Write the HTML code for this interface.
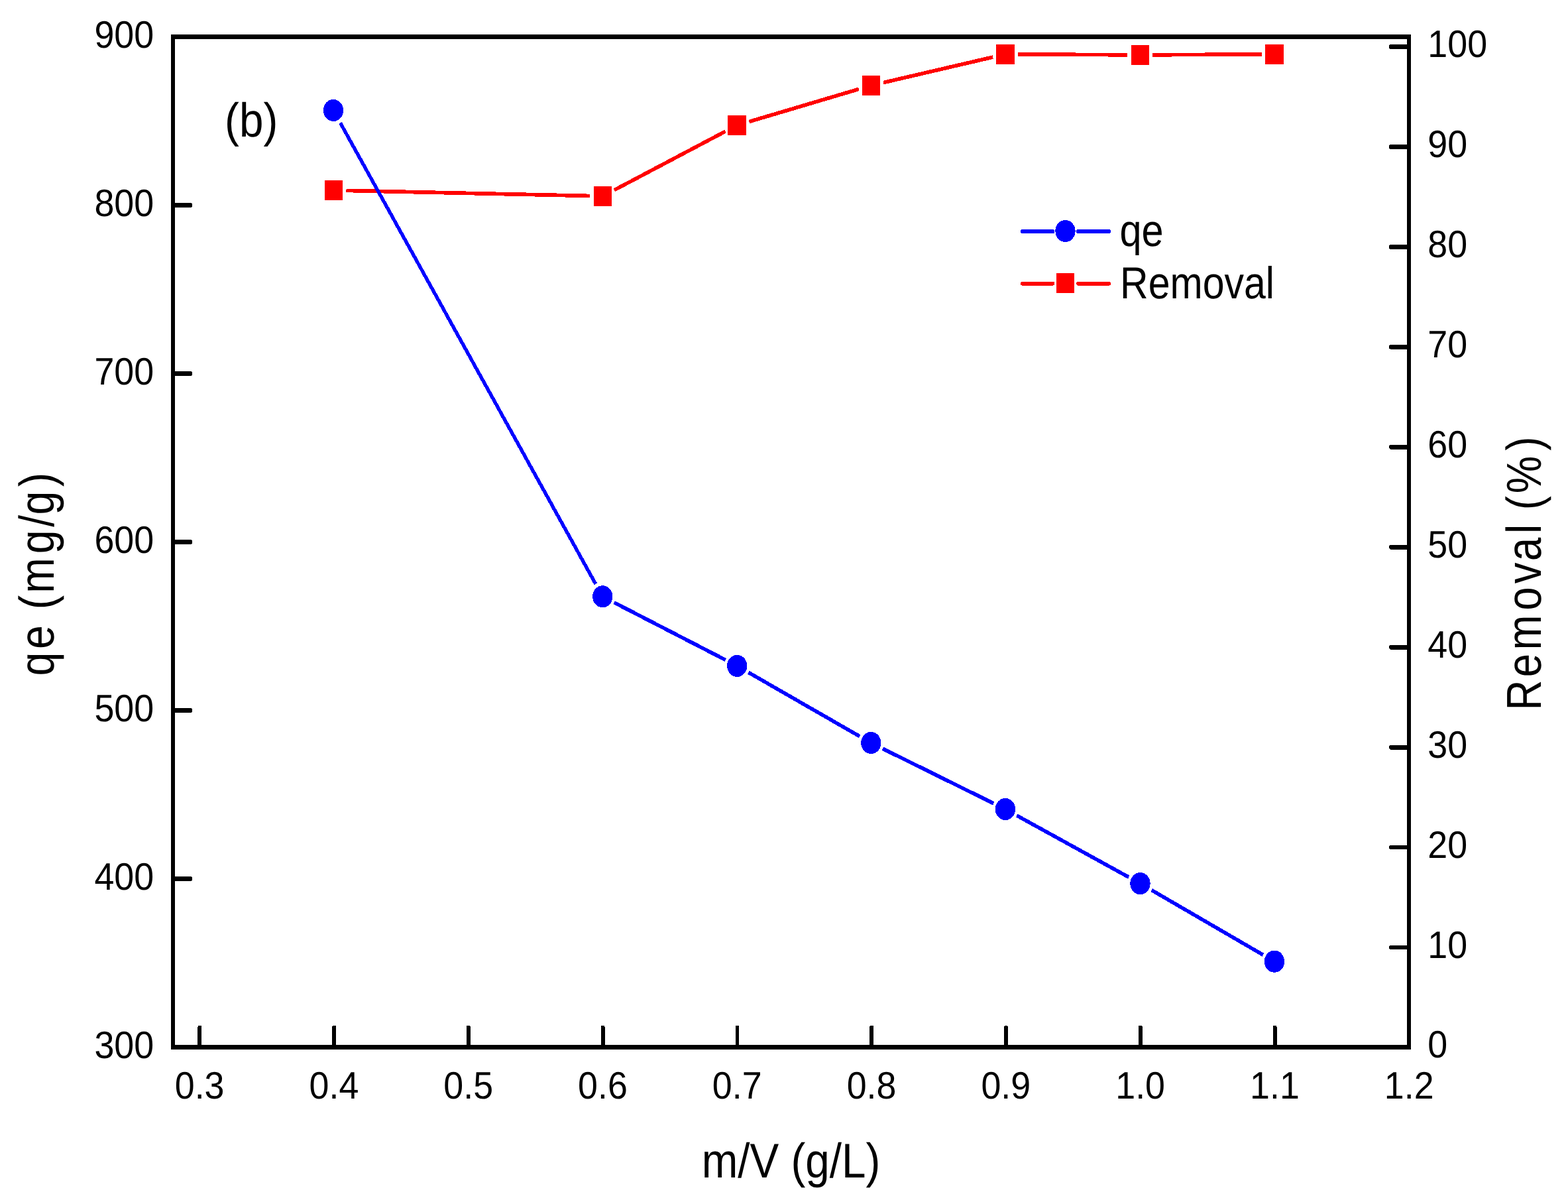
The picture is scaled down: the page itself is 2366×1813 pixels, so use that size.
<!DOCTYPE html>
<html lang="en"><head><meta charset="utf-8"><title>qe and Removal vs m/V (b)</title>
<style>html,body{margin:0;padding:0;background:#fff;}body{width:2366px;height:1813px;overflow:hidden;}svg{display:block;}</style>
</head><body>
<svg width="2366" height="1813" viewBox="0 0 2366 1813" shape-rendering="crispEdges" text-rendering="geometricPrecision" role="img" aria-label="qe (mg/g) and Removal (%) versus m/V (g/L), panel (b)">
<rect x="0" y="0" width="2366" height="1813" fill="#fff"/>
<g fill="#000">
<rect x="258.10" y="52.00" width="5.9" height="1530.90"/>
<rect x="2123.05" y="52.00" width="5.9" height="1530.90"/>
<rect x="258.10" y="52.00" width="1870.85" height="6.9"/>
<rect x="258.10" y="1576.00" width="1870.85" height="6.9"/>
<rect x="261.05" y="306.00" width="28.75" height="6.9" rx="2.2"/>
<rect x="261.05" y="560.00" width="28.75" height="6.9" rx="2.2"/>
<rect x="261.05" y="814.00" width="28.75" height="6.9" rx="2.2"/>
<rect x="261.05" y="1068.00" width="28.75" height="6.9" rx="2.2"/>
<rect x="261.05" y="1322.00" width="28.75" height="6.9" rx="2.2"/>
<rect x="2096.2" y="1425.51" width="29.80" height="6.9" rx="2.2"/>
<rect x="2096.2" y="1274.57" width="29.80" height="6.9" rx="2.2"/>
<rect x="2096.2" y="1123.63" width="29.80" height="6.9" rx="2.2"/>
<rect x="2096.2" y="972.69" width="29.80" height="6.9" rx="2.2"/>
<rect x="2096.2" y="821.75" width="29.80" height="6.9" rx="2.2"/>
<rect x="2096.2" y="670.81" width="29.80" height="6.9" rx="2.2"/>
<rect x="2096.2" y="519.87" width="29.80" height="6.9" rx="2.2"/>
<rect x="2096.2" y="368.93" width="29.80" height="6.9" rx="2.2"/>
<rect x="2096.2" y="217.99" width="29.80" height="6.9" rx="2.2"/>
<rect x="2096.2" y="67.05" width="29.80" height="6.9" rx="2.2"/>
<rect x="298.36" y="1546.9" width="5.9" height="32.55" rx="2.2"/>
<rect x="501.15" y="1546.9" width="5.9" height="32.55" rx="2.2"/>
<rect x="703.94" y="1546.9" width="5.9" height="32.55" rx="2.2"/>
<rect x="906.73" y="1546.9" width="5.9" height="32.55" rx="2.2"/>
<rect x="1109.52" y="1546.9" width="5.9" height="32.55" rx="2.2"/>
<rect x="1312.31" y="1546.9" width="5.9" height="32.55" rx="2.2"/>
<rect x="1515.10" y="1546.9" width="5.9" height="32.55" rx="2.2"/>
<rect x="1717.89" y="1546.9" width="5.9" height="32.55" rx="2.2"/>
<rect x="1920.68" y="1546.9" width="5.9" height="32.55" rx="2.2"/>
</g>
<g transform="scale(1,1.1)" stroke="#f00" stroke-width="5.2" stroke-linecap="butt" fill="none"><line x1="522.50" y1="261.29" x2="890.40" y2="268.62"/><line x1="926.83" y1="260.64" x2="1094.47" y2="180.18"/><line x1="1130.36" y1="166.84" x2="1295.94" y2="122.16"/><line x1="1333.06" y1="113.24" x2="1498.24" y2="78.31"/><line x1="1535.90" y1="74.46" x2="1701.50" y2="75.27"/><line x1="1739.50" y1="75.27" x2="1904.00" y2="74.46"/></g>
<g fill="#f00"><rect x="489.80" y="272.00" width="27.4" height="30.0"/><rect x="895.70" y="280.90" width="27.4" height="30.0"/><rect x="1098.20" y="174.00" width="27.4" height="30.0"/><rect x="1300.70" y="113.90" width="27.4" height="30.0"/><rect x="1503.20" y="66.80" width="27.4" height="30.0"/><rect x="1706.80" y="67.90" width="27.4" height="30.0"/><rect x="1909.30" y="66.80" width="27.4" height="30.0"/></g>
<g transform="scale(1,1.1)" stroke="#00f" stroke-width="5.2" stroke-linecap="butt" fill="none"><line x1="513.54" y1="168.57" x2="898.76" y2="800.70"/><line x1="926.79" y1="826.20" x2="1094.71" y2="904.89"/><line x1="1129.38" y1="922.06" x2="1297.12" y2="1009.67"/><line x1="1331.91" y1="1026.54" x2="1499.29" y2="1101.65"/><line x1="1534.21" y1="1118.21" x2="1703.19" y2="1202.79"/><line x1="1737.64" y1="1220.51" x2="1905.86" y2="1309.31"/></g>
<g fill="#00f"><ellipse cx="503" cy="166.4" rx="15.15" ry="16.55"/><ellipse cx="909.3" cy="899.8" rx="15.15" ry="16.55"/><ellipse cx="1112.2" cy="1004.4" rx="15.15" ry="16.55"/><ellipse cx="1314.3" cy="1120.5" rx="15.15" ry="16.55"/><ellipse cx="1516.9" cy="1220.5" rx="15.15" ry="16.55"/><ellipse cx="1720.5" cy="1332.6" rx="15.15" ry="16.55"/><ellipse cx="1923" cy="1450.2" rx="15.15" ry="16.55"/></g>
<rect x="1540.20" y="346.28" width="51.00" height="5.83" rx="1.8" fill="#00f"/>
<rect x="1624.30" y="346.28" width="51.50" height="5.83" rx="1.8" fill="#00f"/>
<g fill="#00f"><ellipse cx="1607.5" cy="348.5" rx="15.15" ry="16.55"/></g>
<rect x="1540.20" y="424.69" width="51.00" height="5.83" rx="1.8" fill="#f00"/>
<rect x="1624.30" y="424.69" width="51.50" height="5.83" rx="1.8" fill="#f00"/>
<g fill="#f00"><rect x="1593.80" y="412.00" width="27.4" height="30.0"/></g>
<g font-family='"Liberation Sans", sans-serif' fill='#000'>
<text transform="translate(1690.08,449.90) scale(0.8719,1)" font-size="67.70">Removal</text>
<text transform="translate(1689.52,370.90) scale(0.8791,1)" font-size="67.70">qe</text>
<text transform="translate(339.06,206.00) scale(0.9116,1)" font-size="72.00">(b)</text>
<text transform="translate(1058.64,1775.80) scale(0.8925,1)" font-size="73.50" xml:space="preserve">m/V (g/L)</text>
<text transform="translate(80.90,1019.54) rotate(-90) scale(0.8691,1)" font-size="74.00" x="0.00 46.54 87.70 115.54 143.72 212.00 258.72 279.55 328.38" y="0" xml:space="preserve">qe (mg/g)</text>
<text transform="translate(2325.00,1071.39) rotate(-90) scale(0.8607,1)" font-size="74.00" x="0.00 58.33 105.72 175.15 222.03 261.66 309.47 325.92 351.06 380.01 455.03" y="0" xml:space="preserve">Removal (%)</text>
<text transform="translate(142.38,1595.77) scale(0.9320,1)" font-size="57.75" letter-spacing="0.00" xml:space="preserve">300</text>
<text transform="translate(142.38,1341.77) scale(0.9320,1)" font-size="57.75" letter-spacing="0.00" xml:space="preserve">400</text>
<text transform="translate(142.38,1087.77) scale(0.9320,1)" font-size="57.75" letter-spacing="0.00" xml:space="preserve">500</text>
<text transform="translate(142.38,833.77) scale(0.9320,1)" font-size="57.75" letter-spacing="0.00" xml:space="preserve">600</text>
<text transform="translate(142.38,579.77) scale(0.9320,1)" font-size="57.75" letter-spacing="0.00" xml:space="preserve">700</text>
<text transform="translate(142.38,325.77) scale(0.9320,1)" font-size="57.75" letter-spacing="0.00" xml:space="preserve">800</text>
<text transform="translate(142.38,71.77) scale(0.9320,1)" font-size="57.75" letter-spacing="0.00" xml:space="preserve">900</text>
<text transform="translate(2154.28,1595.17) scale(0.9320,1)" font-size="57.75" letter-spacing="0.00" xml:space="preserve">0</text>
<text transform="translate(2154.28,1444.68) scale(0.9320,1)" font-size="57.75" letter-spacing="0.00" xml:space="preserve">10</text>
<text transform="translate(2154.28,1293.74) scale(0.9320,1)" font-size="57.75" letter-spacing="0.00" xml:space="preserve">20</text>
<text transform="translate(2154.28,1142.80) scale(0.9320,1)" font-size="57.75" letter-spacing="0.00" xml:space="preserve">30</text>
<text transform="translate(2154.28,991.86) scale(0.9320,1)" font-size="57.75" letter-spacing="0.00" xml:space="preserve">40</text>
<text transform="translate(2154.28,840.92) scale(0.9320,1)" font-size="57.75" letter-spacing="0.00" xml:space="preserve">50</text>
<text transform="translate(2154.28,689.98) scale(0.9320,1)" font-size="57.75" letter-spacing="0.00" xml:space="preserve">60</text>
<text transform="translate(2154.28,539.04) scale(0.9320,1)" font-size="57.75" letter-spacing="0.00" xml:space="preserve">70</text>
<text transform="translate(2154.28,388.10) scale(0.9320,1)" font-size="57.75" letter-spacing="0.00" xml:space="preserve">80</text>
<text transform="translate(2154.28,237.16) scale(0.9320,1)" font-size="57.75" letter-spacing="0.00" xml:space="preserve">90</text>
<text transform="translate(2154.28,86.22) scale(0.9320,1)" font-size="57.75" letter-spacing="0.00" xml:space="preserve">100</text>
<text transform="translate(263.70,1657.22) scale(0.9320,1)" font-size="57.75" letter-spacing="0.00" xml:space="preserve">0.3</text>
<text transform="translate(466.49,1657.22) scale(0.9320,1)" font-size="57.75" letter-spacing="0.00" xml:space="preserve">0.4</text>
<text transform="translate(669.28,1657.22) scale(0.9320,1)" font-size="57.75" letter-spacing="0.00" xml:space="preserve">0.5</text>
<text transform="translate(872.07,1657.22) scale(0.9320,1)" font-size="57.75" letter-spacing="0.00" xml:space="preserve">0.6</text>
<text transform="translate(1074.86,1657.22) scale(0.9320,1)" font-size="57.75" letter-spacing="0.00" xml:space="preserve">0.7</text>
<text transform="translate(1277.65,1657.22) scale(0.9320,1)" font-size="57.75" letter-spacing="0.00" xml:space="preserve">0.8</text>
<text transform="translate(1480.44,1657.22) scale(0.9320,1)" font-size="57.75" letter-spacing="0.00" xml:space="preserve">0.9</text>
<text transform="translate(1683.23,1657.22) scale(0.9320,1)" font-size="57.75" letter-spacing="0.00" xml:space="preserve">1.0</text>
<text transform="translate(1886.02,1657.22) scale(0.9320,1)" font-size="57.75" letter-spacing="0.00" xml:space="preserve">1.1</text>
<text transform="translate(2088.81,1657.22) scale(0.9320,1)" font-size="57.75" letter-spacing="0.00" xml:space="preserve">1.2</text>
</g>
</svg>
</body></html>
